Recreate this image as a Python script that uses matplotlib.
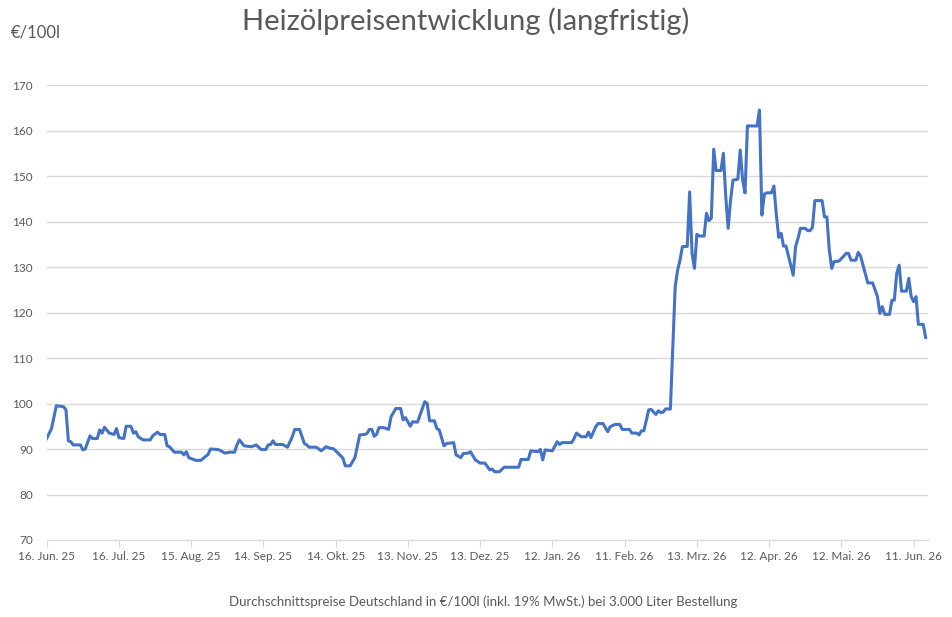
import matplotlib.pyplot as plt
import pandas as pd

# Tagesoffsets ab 16.06.2025 und Preise in €/100l
days = [0, 2, 4, 7, 8, 9, 10, 11, 14, 15, 16, 18, 19, 21, 22, 23, 24, 26, 28, 29,
        30, 32, 33, 35, 36, 37, 38, 40, 43, 44, 46, 47, 49, 50, 51, 53, 56, 57, 58, 59,
        62, 64, 67, 68, 71, 72, 74, 76, 78, 79, 80, 82, 85, 87, 89, 91, 92, 93, 94, 95,
        98, 100, 102, 103, 105, 107, 108, 109, 112, 114, 116, 118, 119, 121, 123, 124, 126, 128, 130, 132,
        133, 134, 135, 136, 137, 138, 140, 142, 143, 145, 147, 148, 149, 151, 152, 154, 157, 158, 159, 161,
        162, 163, 165, 166, 169, 170, 172, 173, 175, 176, 178, 180, 182, 184, 185, 186, 188, 190, 196, 197,
        200, 201, 204, 205, 206, 207, 210, 212, 213, 214, 218, 219, 220, 222, 224, 225, 226, 228, 229, 231,
        233, 234, 236, 238, 239, 242, 243, 245, 246, 247, 248, 250, 251, 253, 254, 255, 256, 257, 259, 260,
        261, 262, 263, 264, 266, 267, 268, 269, 270, 271, 273, 274, 275, 276, 277, 278, 280, 281, 282, 283,
        284, 285, 287, 288, 289, 290, 291, 295, 296, 297, 298, 299, 301, 302, 303, 304, 305, 306, 307, 309,
        310, 311, 312, 313, 315, 316, 317, 318, 319, 322, 323, 324, 325, 326, 327, 329, 331, 332, 333, 334,
        336, 337, 338, 339, 341, 343, 345, 346, 347, 348, 350, 351, 352, 353, 354, 355, 357, 358, 359, 360,
        361, 362, 364, 365]
prices = [92.3, 94.5, 99.5, 99.3, 98.6, 91.8, 91.6, 90.9, 90.9, 89.8, 90.0, 92.9, 92.3, 92.3, 94.2, 93.5, 94.8, 93.5, 93.2, 94.5,
          92.5, 92.3, 95.0, 95.0, 93.5, 93.8, 92.7, 92.0, 92.0, 92.9, 93.7, 93.2, 93.2, 90.7, 90.5, 89.3, 89.3, 88.7, 89.4, 88.1,
          87.5, 87.5, 88.8, 90.0, 89.9, 89.7, 89.1, 89.3, 89.3, 90.9, 92.0, 90.7, 90.5, 90.9, 89.9, 89.9, 90.9, 91.0, 91.8, 91.0,
          91.0, 90.4, 92.7, 94.3, 94.3, 91.2, 90.9, 90.4, 90.4, 89.6, 90.5, 90.1, 90.1, 89.1, 88.0, 86.3, 86.3, 88.1, 93.1, 93.2,
          93.4, 94.3, 94.3, 92.8, 93.2, 94.7, 94.7, 94.3, 97.1, 98.9, 98.9, 96.4, 96.9, 95.0, 96.0, 95.9, 100.4, 100.0, 96.2, 96.2,
          94.5, 94.2, 90.7, 91.2, 91.4, 88.7, 88.1, 89.0, 89.1, 89.4, 87.6, 86.9, 86.9, 85.4, 85.6, 85.0, 85.0, 86.0, 86.0, 87.7,
          87.7, 89.6, 89.4, 89.9, 87.6, 89.8, 89.6, 91.6, 91.0, 91.4, 91.4, 92.3, 93.5, 92.7, 92.7, 93.7, 92.5, 94.9, 95.6, 95.6,
          93.8, 94.9, 95.4, 95.4, 94.3, 94.3, 93.5, 93.5, 93.1, 94.0, 94.0, 98.6, 98.7, 97.6, 98.4, 98.0, 98.1, 98.8, 98.8, 112.0,
          125.7, 129.3, 131.5, 134.5, 134.5, 146.5, 133.0, 129.7, 137.2, 136.8, 136.8, 141.8, 140.2, 140.7, 155.9, 151.2, 151.2, 155.0, 145.5, 138.5,
          144.7, 149.1, 149.3, 155.7, 149.1, 146.3, 161.0, 161.0, 164.5, 141.4, 146.0, 146.3, 146.3, 147.8, 141.5, 136.5, 137.4, 134.6, 134.6, 130.4,
          128.2, 134.5, 136.3, 138.5, 138.5, 138.0, 138.0, 138.7, 144.6, 144.6, 141.0, 141.0, 133.7, 129.7, 131.2, 131.3, 132.4, 133.0, 133.0, 131.5,
          131.5, 133.2, 132.4, 130.4, 126.5, 126.5, 123.5, 119.8, 121.3, 119.6, 119.6, 122.7, 122.7, 128.6, 130.4, 124.7, 124.7, 127.5, 123.5, 122.4,
          123.5, 117.4, 117.4, 114.5]

tick_days = [0, 30, 60, 90, 120, 150, 180, 210, 240, 270, 300, 330, 360]
tick_labels = ["16. Jun. 25", "16. Jul. 25", "15. Aug. 25", "14. Sep. 25", "14. Okt. 25",
               "13. Nov. 25", "13. Dez. 25", "12. Jan. 26", "11. Feb. 26", "13. Mrz. 26",
               "12. Apr. 26", "12. Mai. 26", "11. Jun. 26"]

df = pd.DataFrame({"tag": days, "preis": prices})

grey = "#595959"
grid = "#d9d9d9"
plt.rcParams["font.family"] = ["Lato", "DejaVu Sans"]

fig = plt.figure(figsize=(9.53, 6.17), dpi=100)
ax = fig.add_axes([0.049, 0.1248, 0.9248, 0.7374])

ax.plot(df["tag"], df["preis"], color="#4472C4", linewidth=2.2, solid_joinstyle="round")

ax.set_xlim(0, 366)
ax.set_ylim(70, 170)
ax.set_yticks(range(70, 171, 10))
ax.set_xticks(tick_days)
ax.set_xticklabels(tick_labels)
ax.grid(axis="y", color=grid, linewidth=1)
ax.set_axisbelow(True)
for s in ["top", "right", "left"]:
    ax.spines[s].set_visible(False)
ax.spines["bottom"].set_color(grid)
ax.tick_params(axis="y", length=0, pad=10, labelsize=8.5, labelcolor=grey)
ax.tick_params(axis="x", length=5, color=grid, pad=3, labelsize=8.5, labelcolor=grey)

fig.text(0.489, 0.966, "Heizölpreisentwicklung (langfristig)", ha="center", va="center",
         fontsize=21, color=grey)
fig.text(0.011, 0.947, "€/100l", ha="left", va="center", fontsize=12, color=grey)
fig.text(0.507, 0.025, "Durchschnittspreise Deutschland in €/100l (inkl. 19% MwSt.) bei 3.000 Liter Bestellung",
         ha="center", va="center", fontsize=9.5, color=grey)

fig.savefig("out.png", dpi=100)
